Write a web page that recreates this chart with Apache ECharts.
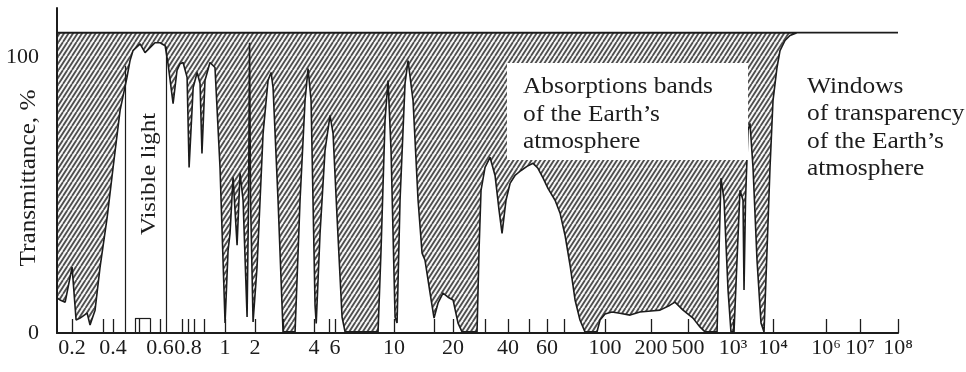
<!DOCTYPE html>
<html><head><meta charset="utf-8">
<script src="https://cdn.jsdelivr.net/npm/echarts@6/dist/echarts.min.js"></script>
<style>html,body{margin:0;padding:0;background:#fff}#c{width:966px;height:372px}</style>
</head><body><div id="c"></div>
<script>
// ---- axis (non-uniform wavelength scale, µm) ----
const tickWavelengths = [0.2,0.4,0.6,0.8,1,2,4,6,10,20,40,60,100,200,500,1e3,1e4,1e6,1e7,1e8];
const tickLabels = ['0.2','0.4','0.6','0.8','1','2','4','6','10','20','40','60','100','200','500','10³','10⁴','10⁶','10⁷','10⁸'];
const scaleStops = [15,56,103,131,168,198,257,278,337,396,451,490,548,594,631,676,716,769,803,841];
const minorTickWavelengths = [0.34,0.5,0.75,0.83,0.88,2.8,5.4,16,30,50,70];
const xRange = [0.155, 1e8];
const yTicks = [0, 100];
const topLevel = 109;

// ---- transmittance curve ----
const wavelengths = [0.155,0.163,0.178,0.2,0.214,0.229,0.258,0.271,0.295,0.321,0.362,0.4,0.425,0.451,0.463,0.475,0.505,0.527,0.55,0.574,0.6,
  0.632,0.651,0.686,0.714,0.737,0.76,0.792,0.805,0.825,0.845,0.86,0.87,0.886,0.913,0.941,0.97,1.0,
  1.072,1.122,1.203,1.32,1.414,1.516,1.663,1.721,1.761,1.802,1.91,2.047,2.198,2.33,2.414,2.471,2.62,2.779,3.2,3.393,3.599,3.728,3.862,
  4.078,4.17,4.491,4.945,5.446,5.771,6.105,6.375,6.543,8.706,8.934,9.25,9.494,9.743,10.12,10.36,10.73,11.38,11.79,12.5,13.26,13.9,14.39,15.27,16.0,
  16.77,17.78,18.86,20,21.3,22.4,27.06,27.75,28.46,29.94,31.88,33.96,35.71,37.09,39.0,40.84,43.0,45.8,48.7,51.9,54.6,57.6,60.5,64.4,67.3,70.3,73.5,76.8,80.2,83.8,
  93.2,95.7,100,111,125,146,169,200,250,320,362,442,540,601,650,782,806,831,871,926,969,1059,1259,1496,1778,1884,2054,2371,2661,3162,3981,5012,5957,
  7079,8414,1e4,14160,18370,28360,43800,80500,1e8];
const transmittance = [12.7,12,11.2,23.9,4.7,5.4,7.2,2.9,8.3,23.9,42,60,80.8,92.8,98.9,102.5,105,101.8,103.6,105.4,105.4,
  104.3,97.8,83.3,95.3,97.8,98.2,92.8,60.1,89.1,94.6,90.6,65.2,91.7,98.2,96.4,60.1,3.6,
  30,36.2,56.5,31.9,58,48.2,5.8,48.2,105.4,48.2,4,23.9,72.5,91.7,94.6,89.1,48.2,0.4,0.4,48.2,84.4,96,84.4,
  10,3.5,36.2,66.3,79,72.5,42,5.8,0.4,0.4,30,77.2,91.7,66.3,5.8,3.6,48.2,90.6,98.9,84.4,48.2,29,26.4,14.5,5.4,
  10.9,14.5,13,12,3.6,0.4,0.4,30,51.8,60.1,63.8,57.2,44.6,36.2,48.2,54.3,57.2,59,60.5,61.6,59.8,56.2,52.5,48.2,43.5,35.5,24.6,12,4.7,0.4,
  0.4,4.7,6.9,7.6,7.2,6.5,7.6,8,8.3,10.1,11.2,8.3,5.4,2.2,0.4,0.4,30,56.2,48.2,15.6,0.4,0.4,26.4,51.8,48.2,15.6,48.2,73.6,76.1,60.1,26.4,3.6,0.4,
  30,60.1,84.4,96.4,102.5,106.2,108,109,109];

// visible-light band markers
const visibleLimits = [0.444, 0.638];
const visibleLimitHeights = [97, 104];
const markerBox = {from: 0.484, to: 0.55, height: 5.4};

// ---- scale: piecewise-logarithmic between the printed tick stops ----
function pos(w){
  const L = Math.log(w);
  let i = 0;
  while (i < tickWavelengths.length - 2 && L > Math.log(tickWavelengths[i+1])) i++;
  const a = Math.log(tickWavelengths[i]), b = Math.log(tickWavelengths[i+1]);
  return scaleStops[i] + (L - a) / (b - a) * (scaleStops[i+1] - scaleStops[i]);
}

function hatch(){
  const w = 9, h = 14, step = 4.5;
  const c = document.createElement('canvas'); c.width = w; c.height = h;
  const g = c.getContext('2d');
  g.fillStyle = '#f7f7f7'; g.fillRect(0,0,w,h);
  g.strokeStyle = '#4e4e4e'; g.lineWidth = 1.8;
  g.beginPath();
  for (let k = -3; k <= 3; k++){ g.moveTo(k*step, h); g.lineTo(k*step + w, 0); }
  g.stroke();
  return c;
}

const xMin = pos(xRange[0]), xMax = pos(xRange[1]);
const curve = wavelengths.map((w,i) => [pos(w), transmittance[i]]);
const majorPos = tickWavelengths.map(pos);
const tickPos = majorPos.concat(minorTickWavelengths.map(pos));
const serif = '"Liberation Serif", "Times New Roman", serif';
const ink = '#1c1c1c';

const chart = echarts.init(document.getElementById('c'), null, {renderer: 'canvas'});
chart.setOption({
  animation: false,
  backgroundColor: '#ffffff',
  grid: {left: 57, right: 68, top: 8, bottom: 39},
  xAxis: {
    type: 'value', min: xMin, max: xMax, z: 10,
    axisLine: {show: true, lineStyle: {color: ink, width: 2.2}},
    axisTick: {show: true, inside: true, length: 14, customValues: tickPos, lineStyle: {color: ink, width: 1.3}},
    axisLabel: {
      customValues: majorPos, margin: 4,
      fontFamily: serif, fontSize: 22, color: ink,
      formatter: v => { let i = majorPos.findIndex(p => Math.abs(p - v) < 1e-6); return i >= 0 ? tickLabels[i] : ''; }
    },
    splitLine: {show: false}
  },
  yAxis: {
    type: 'value', min: 0, max: 118, z: 10,
    axisLine: {show: true, lineStyle: {color: ink, width: 2}},
    axisTick: {show: false},
    axisLabel: {customValues: yTicks, margin: 18, fontFamily: serif, fontSize: 22, color: ink},
    splitLine: {show: false}
  },
  series: [
    {
      type: 'line', z: 1, showSymbol: false, silent: true,
      data: [[xMin, topLevel], [xMax, topLevel]],
      lineStyle: {color: ink, width: 2},
      areaStyle: {color: {image: hatch(), repeat: 'repeat'}, opacity: 1}
    },
    {
      type: 'line', z: 2, showSymbol: false, silent: true,
      data: curve,
      lineStyle: {color: ink, width: 1.6},
      areaStyle: {color: '#ffffff', opacity: 1},
      markLine: {
        silent: true, symbol: 'none', label: {show: false},
        lineStyle: {color: ink, width: 1.2, type: 'solid'},
        data: visibleLimits.map((w,i) => [{coord: [pos(w), 0]}, {coord: [pos(w), visibleLimitHeights[i]]}])
          .concat([
            [{coord: [pos(markerBox.from), 0]}, {coord: [pos(markerBox.from), markerBox.height]}],
            [{coord: [pos(markerBox.from), markerBox.height]}, {coord: [pos(markerBox.to), markerBox.height]}],
            [{coord: [pos(markerBox.to), markerBox.height]}, {coord: [pos(markerBox.to), 0]}]
          ])
      }
    }
  ],
  graphic: [
    {type: 'rect', z: 100, shape: {x: 507, y: 63, width: 241, height: 97}, style: {fill: '#ffffff'}},
    {type: 'text', z: 101, x: 523, y: 115, scaleX: 1.13,
      style: {text: 'Absorptions bands\nof the Earth’s\natmosphere', font: '22.5px ' + serif, fill: ink,
        lineHeight: 27.5, textAlign: 'left', textVerticalAlign: 'middle', align: 'left', verticalAlign: 'middle'}},
    {type: 'text', z: 101, x: 807, y: 128, scaleX: 1.13,
      style: {text: 'Windows\nof transparency\nof the Earth’s\natmosphere', font: '22.5px ' + serif, fill: ink,
        lineHeight: 27.3, textAlign: 'left', textVerticalAlign: 'middle', align: 'left', verticalAlign: 'middle'}},
    {type: 'text', z: 101, x: 29, y: 178, rotation: Math.PI/2, scaleX: 1.12,
      style: {text: 'Transmittance, %', font: '22.5px ' + serif, fill: ink,
        textAlign: 'center', textVerticalAlign: 'middle', align: 'center', verticalAlign: 'middle'}},
    {type: 'text', z: 101, x: 149, y: 174, rotation: Math.PI/2, scaleX: 1.13,
      style: {text: 'Visible light', font: '22px ' + serif, fill: ink,
        textAlign: 'center', textVerticalAlign: 'middle', align: 'center', verticalAlign: 'middle'}}
  ]
});
</script>
</body></html>
